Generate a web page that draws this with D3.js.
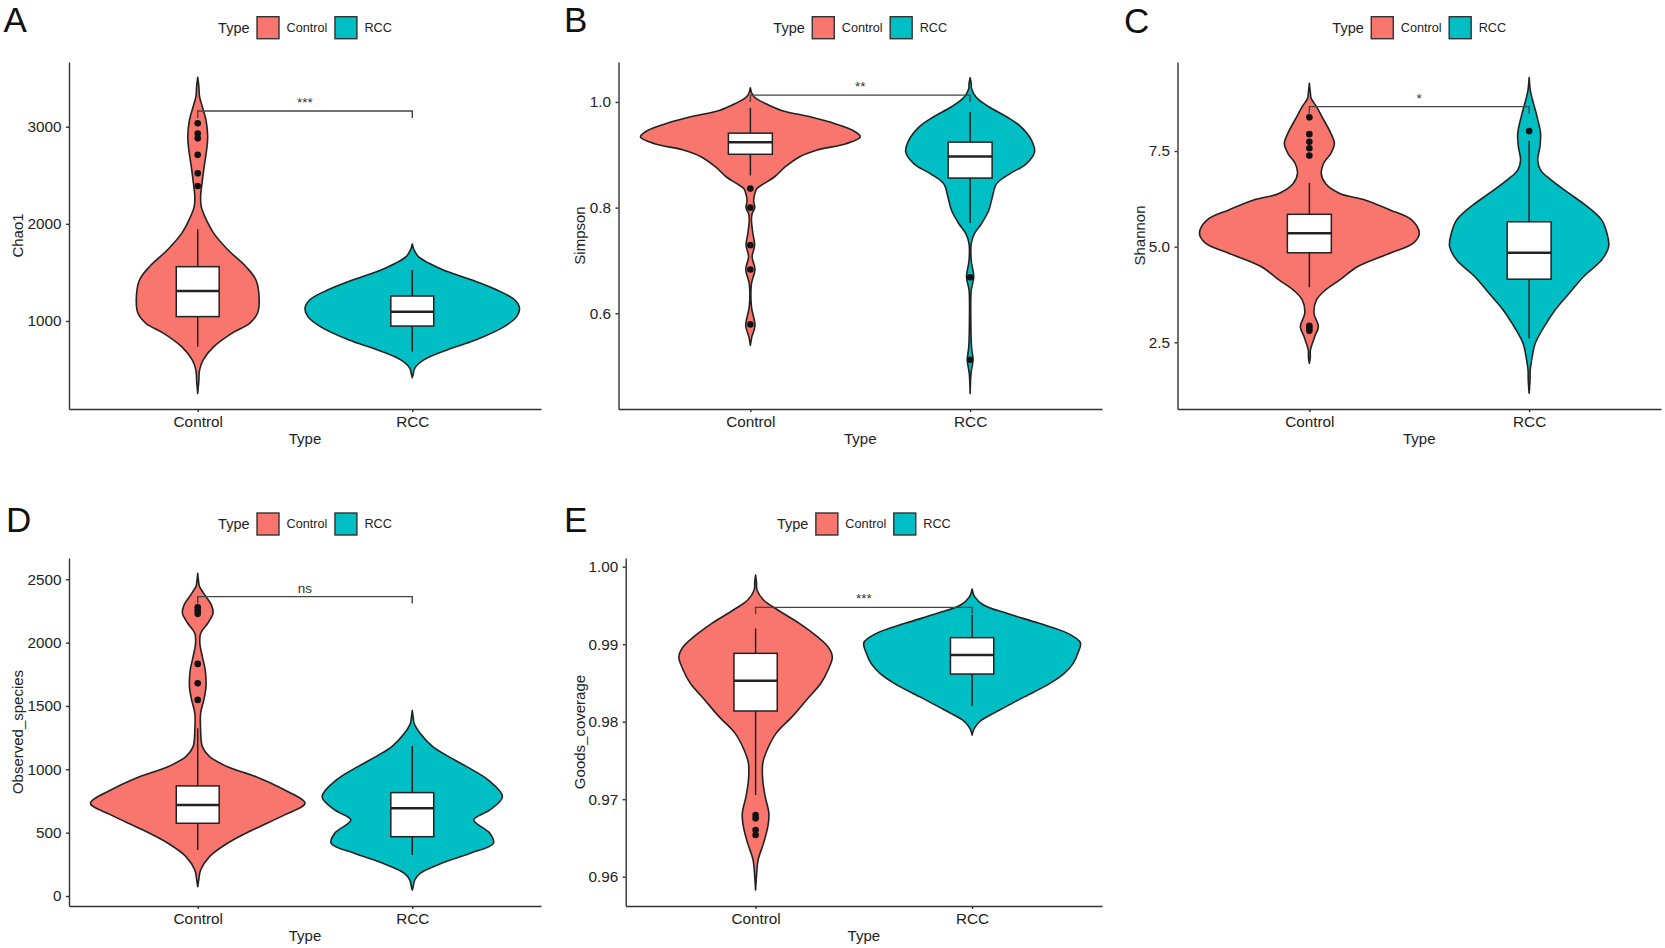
<!DOCTYPE html>
<html><head><meta charset="utf-8">
<script src="https://cdn.jsdelivr.net/npm/d3@7"></script>
<style>
body{margin:0;background:#fff}
svg{display:block}
text{font-family:"Liberation Sans",Arial,Helvetica,sans-serif}
</style>
</head><body>
<svg id="chart" width="1665" height="948"></svg>
<script>
// ---------------- DATA ----------------
const categories = ["Control", "RCC"];
const legendTitle = "Type";
const groupColors = ["#F8766D", "#00BFC4"];

// Panel A : Chao1  (profile = [value, relative half-width])
const chaoTicks = [1000, 2000, 3000];
const chaoLimits = [94, 3666];
const chaoControlProfile = [[3508,0],[3420,0.01],[3309,0.017],[3206,0.043],[3069,0.077],[2897,0.093],[2760,0.083],[2589,0.06],[2417,0.04],[2280,0.027],[2177,0.033],[2074,0.067],[1902,0.15],[1731,0.283],[1559,0.45],[1422,0.543],[1216,0.573],[1079,0.557],[976,0.483],[873,0.317],[736,0.15],[598,0.05],[495,0.017],[380,0.01],[255,0]];
const chaoRCCProfile = [[1793,0],[1750,0.01],[1731,0.017],[1662,0.057],[1594,0.157],[1525,0.29],[1422,0.557],[1319,0.79],[1216,0.957],[1130,1.0],[1045,0.973],[942,0.857],[804,0.59],[702,0.323],[599,0.107],[513,0.023],[460,0.01],[417,0]];
const chaoControlBox = [736, 1045, 1309, 1559, 1944]; // lower whisker, q1, median, q3, upper whisker
const chaoRCCBox = [684, 948, 1096, 1257, 1525];
const chaoControlOut = [3035, 2930, 2880, 2710, 2520, 2390];
const chaoRCCOut = [];
const chaoBracket = 3161;
const chaoSig = "***";

// Panel B : Simpson
const simpTicks = [0.6, 0.8, 1.0];
const simpLimits = [0.4188, 1.0757];
const simpControlProfile = [[1.027,0],[1.018,0.01],[1.009,0.039],[0.997,0.137],[0.984,0.283],[0.972,0.544],[0.959,0.77],[0.946,0.935],[0.934,1.0],[0.921,0.87],[0.909,0.609],[0.896,0.446],[0.877,0.316],[0.858,0.218],[0.845,0.12],[0.836,0.06],[0.826,0.04],[0.812,0.03],[0.8,0.04],[0.788,0.015],[0.776,0.01],[0.751,0.023],[0.729,0.039],[0.707,0.016],[0.683,0.042],[0.656,0.01],[0.612,0.01],[0.577,0.042],[0.555,0.013],[0.539,0]];
const simpRCCProfile = [[1.046,0],[1.035,0.01],[1.025,0.013],[1.009,0.055],[0.991,0.17],[0.972,0.332],[0.953,0.463],[0.927,0.56],[0.905,0.586],[0.883,0.511],[0.864,0.36],[0.845,0.24],[0.82,0.202],[0.795,0.17],[0.77,0.104],[0.751,0.039],[0.732,0.01],[0.7,0.01],[0.669,0.033],[0.644,0.01],[0.593,0.006],[0.536,0.013],[0.512,0.026],[0.486,0.008],[0.448,0]];
const simpControlBox = [0.861, 0.901, 0.924, 0.941, 0.989];
const simpRCCBox = [0.771, 0.856, 0.897, 0.924, 0.981];
const simpControlOut = [0.836, 0.8, 0.729, 0.683, 0.579];
const simpRCCOut = [0.668, 0.512];
const simpBracket = 1.013;
const simpSig = "**";

// Panel C : Shannon
const shanTicks = [2.5, 5.0, 7.5];
const shanLimits = [0.757, 9.826];
const shanControlProfile = [[9.27,0],[9.0,0.01],[8.876,0.016],[8.66,0.065],[8.40,0.114],[7.96,0.196],[7.70,0.228],[7.44,0.196],[7.18,0.13],[6.92,0.108],[6.65,0.147],[6.39,0.277],[6.22,0.506],[5.96,0.734],[5.70,0.93],[5.35,1.0],[5.09,0.946],[4.83,0.734],[4.48,0.44],[4.13,0.277],[3.87,0.147],[3.61,0.065],[3.26,0.042],[2.91,0.082],[2.65,0.049],[2.30,0.01],[2.1,0.008],[1.95,0]];
const shanRCCProfile = [[9.42,0],[9.1,0.01],[8.92,0.023],[8.75,0.039],[8.40,0.072],[7.96,0.104],[7.61,0.098],[7.26,0.078],[7.00,0.104],[6.74,0.202],[6.39,0.365],[6.05,0.528],[5.70,0.659],[5.35,0.708],[5.00,0.724],[4.65,0.659],[4.22,0.496],[3.78,0.365],[3.34,0.235],[2.91,0.137],[2.47,0.055],[2.04,0.023],[1.78,0.01],[1.5,0.008],[1.17,0]];
const shanControlBox = [3.94, 4.84, 5.35, 5.845, 6.67];
const shanRCCBox = [2.60, 4.15, 4.84, 5.65, 7.77];
const shanControlOut = [8.38, 7.94, 7.74, 7.57, 7.38, 2.93, 2.87, 2.80];
const shanRCCOut = [8.02];
const shanBracket = 8.66;
const shanSig = "*";

// Panel D : Observed_species
const obsTicks = [0, 500, 1000, 1500, 2000, 2500];
const obsLimits = [-79, 2668];
const obsControlProfile = [[2548,0],[2470,0.01],[2442,0.017],[2363,0.077],[2298,0.127],[2232,0.143],[2153,0.093],[2074,0.027],[1995,0.02],[1890,0.043],[1784,0.07],[1653,0.077],[1548,0.057],[1442,0.027],[1311,0.027],[1179,0.043],[1100,0.11],[1021,0.277],[942,0.543],[837,0.81],[732,1.0],[640,0.81],[521,0.51],[416,0.277],[311,0.11],[205,0.027],[130,0.01],[74,0]];
const obsRCCProfile = [[1463,0],[1400,0.01],[1363,0.017],[1284,0.073],[1179,0.19],[1100,0.34],[1021,0.507],[916,0.707],[784,0.84],[679,0.723],[600,0.573],[495,0.723],[416,0.757],[337,0.54],[258,0.273],[179,0.073],[126,0.023],[80,0.01],[47,0]];
const obsControlBox = [363, 574, 718, 869, 1324];
const obsRCCBox = [324, 468, 692, 816, 1184];
const obsControlOut = [2279, 2253, 2227, 1832, 1679, 1548];
const obsRCCOut = [];
const obsBracket = 2363;
const obsSig = "ns";

// Panel E : Goods_coverage
const goodTicks = [0.96, 0.97, 0.98, 0.99, 1.00];
const goodLimits = [0.95622, 1.00112];
const goodControlProfile = [[0.99892,0],[0.9980,0.008],[0.99699,0.013],[0.9957,0.073],[0.99441,0.205],[0.99269,0.404],[0.99097,0.57],[0.98968,0.669],[0.98839,0.709],[0.98667,0.669],[0.98495,0.603],[0.9828,0.47],[0.98065,0.338],[0.97849,0.189],[0.97634,0.106],[0.97462,0.066],[0.97247,0.066],[0.97032,0.089],[0.96817,0.123],[0.96645,0.113],[0.9643,0.073],[0.96215,0.023],[0.96,0.008],[0.95828,0]];
const goodRCCProfile = [[0.99712,0],[0.99613,0.023],[0.99505,0.106],[0.99398,0.321],[0.99269,0.619],[0.9914,0.884],[0.9902,1.0],[0.98882,0.977],[0.98753,0.934],[0.98624,0.851],[0.98495,0.719],[0.98323,0.487],[0.98151,0.255],[0.98022,0.089],[0.97935,0.03],[0.9788,0.01],[0.97828,0]];
const goodControlBox = [0.97054, 0.98138, 0.98529, 0.98882, 0.99204];
const goodRCCBox = [0.98202, 0.98615, 0.9886, 0.99084, 0.99376];
const goodControlOut = [0.96796, 0.96753, 0.96602, 0.96538];
const goodRCCOut = [];
const goodBracket = 0.99475;
const goodSig = "***";

// ---------------- PANELS ----------------
const panels = [
  {label:"A", yTitle:"Chao1", ticks:chaoTicks, limits:chaoLimits, fmt:d3.format("d"),
   profiles:[chaoControlProfile, chaoRCCProfile], boxes:[chaoControlBox, chaoRCCBox], outliers:[chaoControlOut, chaoRCCOut], bracket:chaoBracket, sig:chaoSig,
   left:69, right:541, top:62, bottom:409, labelX:3.5, labelY:32, yTitleX:17, legendY:27.7},
  {label:"B", yTitle:"Simpson", ticks:simpTicks, limits:simpLimits, fmt:d3.format(".1f"),
   profiles:[simpControlProfile, simpRCCProfile], boxes:[simpControlBox, simpRCCBox], outliers:[simpControlOut, simpRCCOut], bracket:simpBracket, sig:simpSig,
   left:618.5, right:1102, top:62, bottom:409, labelX:564, labelY:32, yTitleX:579, legendY:27.7},
  {label:"C", yTitle:"Shannon", ticks:shanTicks, limits:shanLimits, fmt:d3.format(".1f"),
   profiles:[shanControlProfile, shanRCCProfile], boxes:[shanControlBox, shanRCCBox], outliers:[shanControlOut, shanRCCOut], bracket:shanBracket, sig:shanSig,
   left:1177.5, right:1661, top:62, bottom:409, labelX:1124, labelY:33, yTitleX:1139, legendY:27.7},
  {label:"D", yTitle:"Observed_species", ticks:obsTicks, limits:obsLimits, fmt:d3.format("d"),
   profiles:[obsControlProfile, obsRCCProfile], boxes:[obsControlBox, obsRCCBox], outliers:[obsControlOut, obsRCCOut], bracket:obsBracket, sig:obsSig,
   left:69, right:541, top:558, bottom:906, labelX:6, labelY:532, yTitleX:17.7, legendY:524},
  {label:"E", yTitle:"Goods_coverage", ticks:goodTicks, limits:goodLimits, fmt:d3.format(".2f"),
   profiles:[goodControlProfile, goodRCCProfile], boxes:[goodControlBox, goodRCCBox], outliers:[goodControlOut, goodRCCOut], bracket:goodBracket, sig:goodSig,
   left:625.7, right:1102, top:558, bottom:906, labelX:564, labelY:532, yTitleX:579, legendY:524}
];

const svg = d3.select("#chart");
const INK = "#222";

function drawPanel(p) {
  const g = svg.append("g");
  const x = d3.scalePoint().domain(categories).range([p.left, p.right]).padding(0.6);
  const y = d3.scaleLinear().domain(p.limits).range([p.bottom, p.top]);
  const step = x.step();
  const hw = step * 0.5;
  const bh = step * 0.1;

  // violins
  categories.forEach((c, i) => {
    const cx = x(c);
    const area = d3.area()
      .curve(d3.curveCatmullRom.alpha(0.5))
      .y(d => y(d[0]))
      .x0(d => cx - d[1] * hw)
      .x1(d => cx + d[1] * hw);
    g.append("path").attr("d", area(p.profiles[i]))
      .attr("fill", groupColors[i]).attr("stroke", INK).attr("stroke-width", 1.6)
      .attr("stroke-linejoin", "round");
  });

  // boxplots
  categories.forEach((c, i) => {
    const cx = x(c);
    const b = p.boxes[i];
    g.append("line").attr("x1", cx).attr("x2", cx).attr("y1", y(b[3])).attr("y2", y(b[4]))
      .attr("stroke", INK).attr("stroke-width", 1.5);
    g.append("line").attr("x1", cx).attr("x2", cx).attr("y1", y(b[1])).attr("y2", y(b[0]))
      .attr("stroke", INK).attr("stroke-width", 1.5);
    g.append("rect").attr("x", cx - bh).attr("width", 2 * bh)
      .attr("y", y(b[3])).attr("height", y(b[1]) - y(b[3]))
      .attr("fill", "#fff").attr("stroke", INK).attr("stroke-width", 1.5);
    g.append("line").attr("x1", cx - bh).attr("x2", cx + bh).attr("y1", y(b[2])).attr("y2", y(b[2]))
      .attr("stroke", INK).attr("stroke-width", 2.5);
    g.selectAll(null).data(p.outliers[i]).enter().append("circle")
      .attr("cx", cx).attr("cy", d => y(d)).attr("r", 3.3).attr("fill", "#111");
  });

  // axes
  const yAxis = d3.axisLeft(y).tickValues(p.ticks).tickFormat(p.fmt)
    .tickSize(3).tickSizeOuter(0).tickPadding(4.5);
  const ya = g.append("g").attr("transform", `translate(${p.left},0)`).call(yAxis);
  const xAxis = d3.axisBottom(x).tickSize(3).tickSizeOuter(0).tickPadding(4.5);
  const xa = g.append("g").attr("transform", `translate(0,${p.bottom})`).call(xAxis);
  [ya, xa].forEach(a => {
    a.selectAll("path,line").attr("stroke", "#333").attr("stroke-width", 1.4);
    a.selectAll("text").attr("font-size", 15.3).attr("fill", INK)
      .attr("font-family", '"Liberation Sans",Arial,sans-serif');
  });

  // axis titles
  g.append("text").attr("x", (p.left + p.right) / 2).attr("y", p.bottom + 35)
    .attr("text-anchor", "middle").attr("font-size", 15).attr("fill", INK).text(legendTitle);
  g.append("text")
    .attr("transform", `translate(${p.yTitleX},${(p.top + p.bottom) / 2}) rotate(-90)`)
    .attr("text-anchor", "middle").attr("dominant-baseline", "central")
    .attr("font-size", 15).attr("fill", INK).text(p.yTitle);

  // significance bracket
  const by = y(p.bracket);
  const tip = (p.bottom - p.top) * 0.02;
  const x1 = x(categories[0]), x2 = x(categories[1]);
  g.append("path").attr("d", `M${x1},${by + tip}L${x1},${by}L${x2},${by}L${x2},${by + tip}`)
    .attr("fill", "none").attr("stroke", "#444").attr("stroke-width", 1.4);
  g.append("text").attr("x", (x1 + x2) / 2).attr("y", by - 4)
    .attr("text-anchor", "middle").attr("font-size", 13.5).attr("fill", "#333").text(p.sig);

  // legend
  const lg = g.append("g");
  const ly = p.legendY;
  const sw = 22;
  const gap = 7.5;
  let cur = 0;
  const t = lg.append("text").attr("x", cur).attr("y", ly).attr("dy", "0.35em")
    .attr("font-size", 14.5).attr("fill", INK).text(legendTitle);
  cur += t.node().getComputedTextLength() + gap;
  categories.forEach((c, i) => {
    lg.append("rect").attr("x", cur).attr("y", ly - sw / 2).attr("width", sw).attr("height", sw)
      .attr("fill", groupColors[i]).attr("stroke", "#333").attr("stroke-width", 1.4);
    cur += sw + gap;
    const tt = lg.append("text").attr("x", cur).attr("y", ly).attr("dy", "0.35em")
      .attr("font-size", 12.7).attr("fill", INK).text(c);
    cur += tt.node().getComputedTextLength() + (i === 0 ? gap : 0);
  });
  lg.attr("transform", `translate(${(p.left + p.right) / 2 - cur / 2},0)`);

  // panel label
  svg.append("text").attr("x", p.labelX).attr("y", p.labelY)
    .attr("font-size", 35).attr("fill", "#111").text(p.label);
}

panels.forEach(drawPanel);
</script>
</body></html>
